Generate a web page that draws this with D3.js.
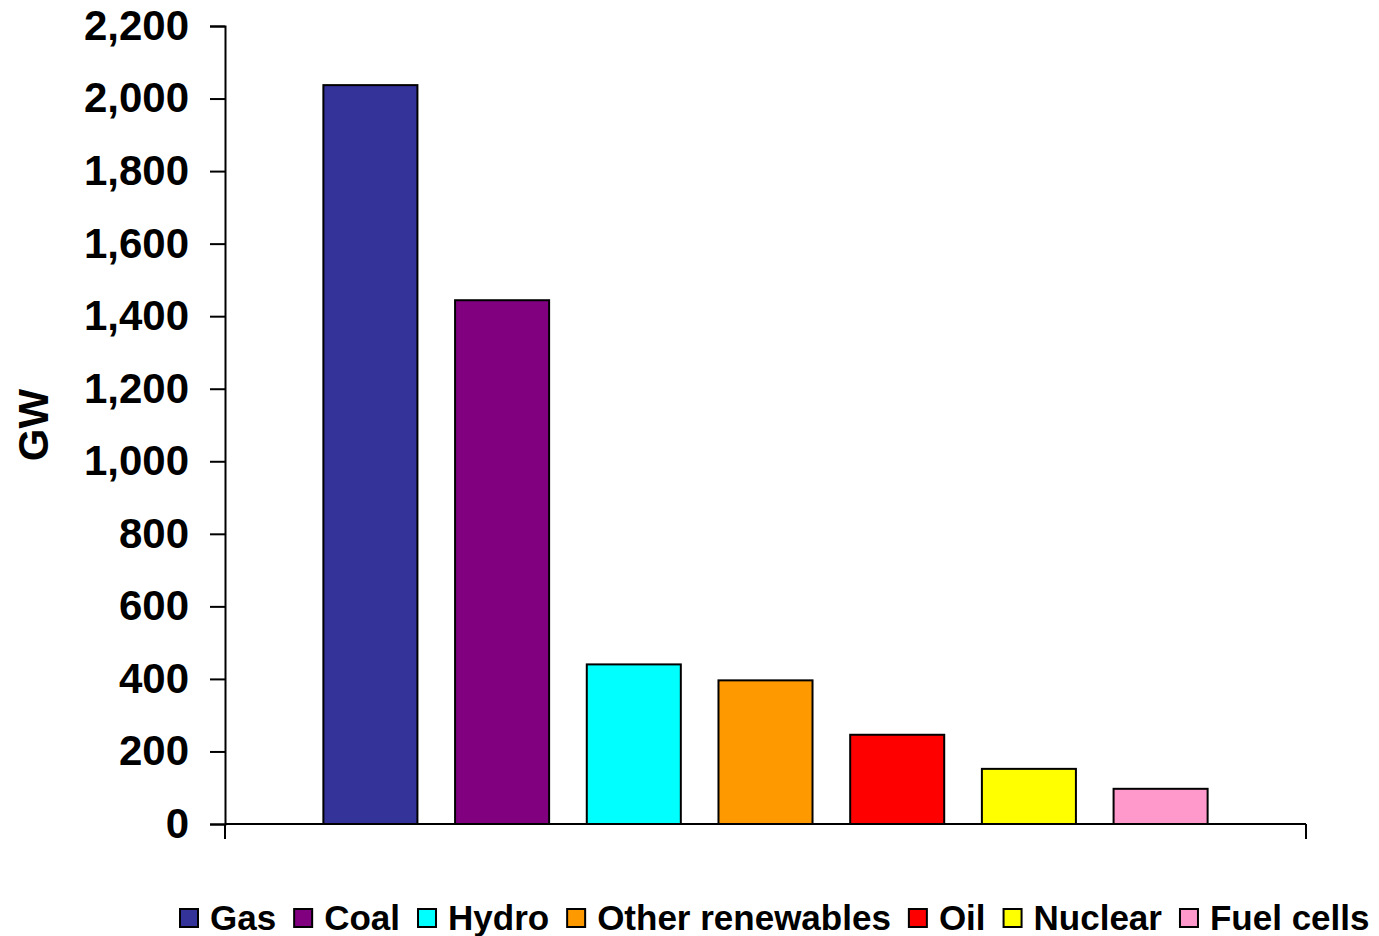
<!DOCTYPE html>
<html>
<head>
<meta charset="utf-8">
<script src="https://cdn.jsdelivr.net/npm/d3@7"></script>
<style>
  html, body { margin: 0; padding: 0; background: #fff; }
  svg { display: block; }
  text { font-family: Arial, "Liberation Sans", sans-serif; font-weight: bold; fill: #000; }
</style>
</head>
<body>
<svg id="chart" width="1379" height="936"></svg>
<script>
// Installed generating capacity by fuel type (GW)
const categories = ["Gas", "Coal", "Hydro", "Other renewables", "Oil", "Nuclear", "Fuel cells"];
const values = [2037, 1444, 440, 396, 246, 152, 97];
const colors = ["#333399", "#800080", "#00FFFF", "#FF9900", "#FF0000", "#FFFF00", "#FF99CC"];
const yTicks = [0, 200, 400, 600, 800, 1000, 1200, 1400, 1600, 1800, 2000, 2200];

const svg = d3.select("#chart");
const plot = { left: 225, right: 1306, top: 26, bottom: 824 };

const x = d3.scaleBand()
  .domain(categories)
  .range([plot.left, plot.right])
  .paddingInner(0.286)
  .paddingOuter(0.747);

const y = d3.scaleLinear().domain([0, 2200]).range([plot.bottom, plot.top]);

// Bars
svg.append("g")
  .selectAll("rect")
  .data(categories)
  .join("rect")
  .attr("x", d => x(d))
  .attr("width", x.bandwidth())
  .attr("y", (d, i) => y(values[i]))
  .attr("height", (d, i) => plot.bottom - y(values[i]))
  .attr("fill", (d, i) => colors[i])
  .attr("stroke", "#000")
  .attr("stroke-width", 2);

// Y axis
const yAxis = svg.append("g")
  .attr("transform", `translate(${plot.left},0)`)
  .call(d3.axisLeft(y).tickValues(yTicks).tickSize(15).tickPadding(21)
    .tickFormat(d3.format(",")));
yAxis.select(".domain").attr("stroke", "#000").attr("stroke-width", 2);
yAxis.selectAll(".tick line").attr("stroke", "#000").attr("stroke-width", 2);
yAxis.selectAll(".tick text")
  .attr("font-size", 42)
  .attr("font-family", "Arial, 'Liberation Sans', sans-serif")
  .attr("font-weight", "bold")
  .attr("fill", "#000");

// X axis: baseline with end ticks only
const xAxis = svg.append("g");
xAxis.append("line")
  .attr("x1", plot.left).attr("x2", plot.right)
  .attr("y1", plot.bottom).attr("y2", plot.bottom)
  .attr("stroke", "#000").attr("stroke-width", 2);
[plot.left, plot.right].forEach(px => {
  xAxis.append("line")
    .attr("x1", px).attr("x2", px)
    .attr("y1", plot.bottom).attr("y2", plot.bottom + 15)
    .attr("stroke", "#000").attr("stroke-width", 2);
});

// Axis title
svg.append("text")
  .attr("transform", "translate(48,425) rotate(-90)")
  .attr("text-anchor", "middle")
  .attr("font-size", 42)
  .text("GW");

// Legend
const legend = svg.append("g");
let lx = 180;
categories.forEach((c, i) => {
  const g = legend.append("g");
  g.append("rect")
    .attr("x", lx).attr("y", 909)
    .attr("width", 18).attr("height", 18)
    .attr("fill", colors[i])
    .attr("stroke", "#000").attr("stroke-width", 2);
  const t = g.append("text")
    .attr("x", lx + 30).attr("y", 930)
    .attr("font-size", 35)
    .text(c);
  lx += 30 + t.node().getComputedTextLength() + 18;
});
</script>
</body>
</html>
